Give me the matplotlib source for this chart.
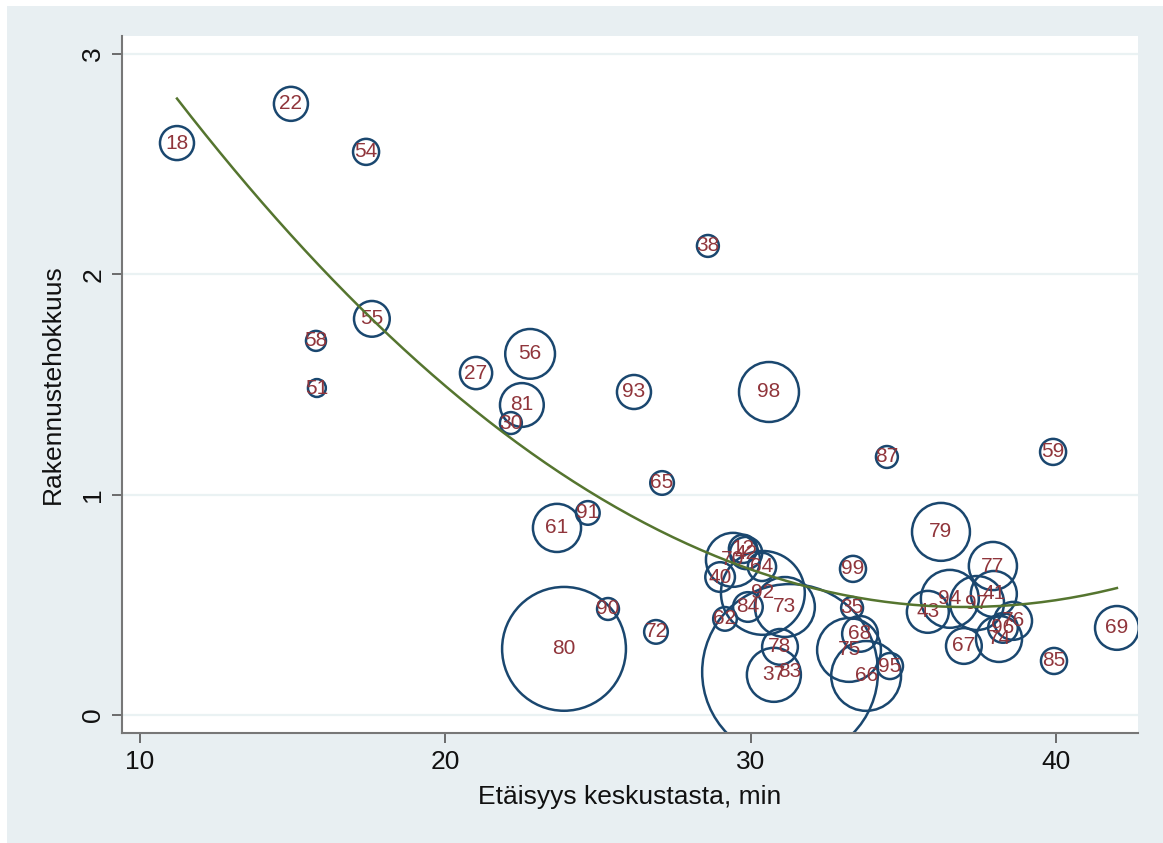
import numpy as np
import matplotlib.pyplot as plt
from matplotlib.patches import Rectangle

# --- data --------------------------------------------------------------------
labels = ["18", "22", "54", "38", "55", "58", "51", "27", "56", "93",
          "81", "30", "98", "87", "59", "65", "91", "61", "79", "80",
          "90", "72", "62", "40", "70", "42", "12", "64", "92", "84",
          "73", "78", "37", "83", "99", "35", "68", "75", "66", "95",
          "43", "94", "97", "41", "77", "76", "96", "74", "67", "85", "69"]
dist = [11.21, 14.94, 17.40, 28.59, 17.59, 15.76, 15.79, 21.00, 22.77, 26.17,
        22.50, 22.14, 30.59, 34.45, 39.89, 27.09, 24.66, 23.65, 36.22, 23.88,
        25.32, 26.89, 29.15, 28.99, 29.41, 29.84, 29.74, 30.36, 30.39, 29.90,
        31.11, 30.95, 30.75, 31.28, 33.34, 33.31, 33.57, 33.21, 33.77, 34.55,
        35.79, 36.51, 37.40, 37.95, 37.92, 38.58, 38.25, 38.12, 36.97, 39.92, 41.98]
density = [2.596, 2.774, 2.556, 2.129, 1.798, 1.698, 1.484, 1.552, 1.639, 1.466,
           1.407, 1.325, 1.466, 1.171, 1.194, 1.053, 0.917, 0.849, 0.831, 0.300,
           0.481, 0.377, 0.436, 0.626, 0.704, 0.735, 0.754, 0.672, 0.554, 0.490,
           0.490, 0.309, 0.182, 0.195, 0.663, 0.486, 0.368, 0.295, 0.177, 0.222,
           0.468, 0.527, 0.508, 0.549, 0.676, 0.427, 0.395, 0.345, 0.313, 0.245, 0.395]
weight = [29, 29, 17, 12, 32, 10, 8, 26, 62, 29,
          48, 12, 90, 12, 17, 14, 14, 58, 84, 384,
          12, 14, 14, 22, 73, 26, 20, 20, 176, 22,
          90, 32, 73, 774, 17, 12, 32, 102, 122, 17,
          44, 84, 73, 53, 58, 36, 22, 53, 32, 17, 48]

# quadratic fit curve: y = a*(x - h)^2 + k
fit_a, fit_h, fit_k = 0.00347, 37.0, 0.49

x_ticks = [10, 20, 30, 40]
y_ticks = [0, 1, 2, 3]

navy = "#1a476f"
maroon = "#90353b"
green = "#55752f"
bg = "#e8eff2"
grid_c = "#eaf2f3"

fig = plt.figure(figsize=(11.63, 8.43), dpi=100)
fig.patch.set_facecolor("white")
fig.patches.append(Rectangle((7 / 1163, 0), 1, 1 - 6 / 843, transform=fig.transFigure,
                             facecolor=bg, edgecolor="none", zorder=-10))

ax = fig.add_axes([122 / 1163, 1 - 733 / 843, (1138 - 122) / 1163, (733 - 36) / 843])
ax.set_facecolor("white")
ax.set_xlim(9.41, 42.67)
ax.set_ylim(-0.082, 3.082)

for yt in y_ticks:
    ax.axhline(yt, color=grid_c, lw=1.6, zorder=0)

x = np.array(dist)
y = np.array(density)
w = np.array(weight)
sizes = 20.7 * w
ax.scatter(x, y, s=sizes, facecolors="none", edgecolors=navy, linewidths=1.8, zorder=2)
for lab, xi, yi in zip(labels, x, y):
    ax.text(xi, yi, lab, color=maroon, fontsize=15, ha="center", va="center",
            family="Liberation Sans", zorder=3)

xs = np.linspace(x.min(), x.max(), 200)
ax.plot(xs, fit_a * (xs - fit_h) ** 2 + fit_k, color=green, lw=1.8, zorder=4)

for s in ["top", "right"]:
    ax.spines[s].set_visible(False)
for s in ["left", "bottom"]:
    ax.spines[s].set_color("#777777")
    ax.spines[s].set_linewidth(1.5)

ax.set_xticks(x_ticks)
ax.set_yticks(y_ticks)
ax.tick_params(axis="both", direction="out", length=7, width=1.2, color="#555555",
               labelsize=19, pad=5, labelcolor="#111111")
for t in ax.get_xticklabels() + ax.get_yticklabels():
    t.set_family("Liberation Sans")
for t in ax.get_yticklabels():
    t.set_rotation(90)
    t.set_va("center")

ax.set_xlabel("Etäisyys keskustasta, min", fontsize=19, family="Liberation Sans",
              labelpad=8, color="#111111")
ax.set_ylabel("Rakennustehokkuus", fontsize=19, family="Liberation Sans",
              labelpad=12, color="#111111")

fig.savefig("out.png", dpi=100, facecolor=fig.get_facecolor())
